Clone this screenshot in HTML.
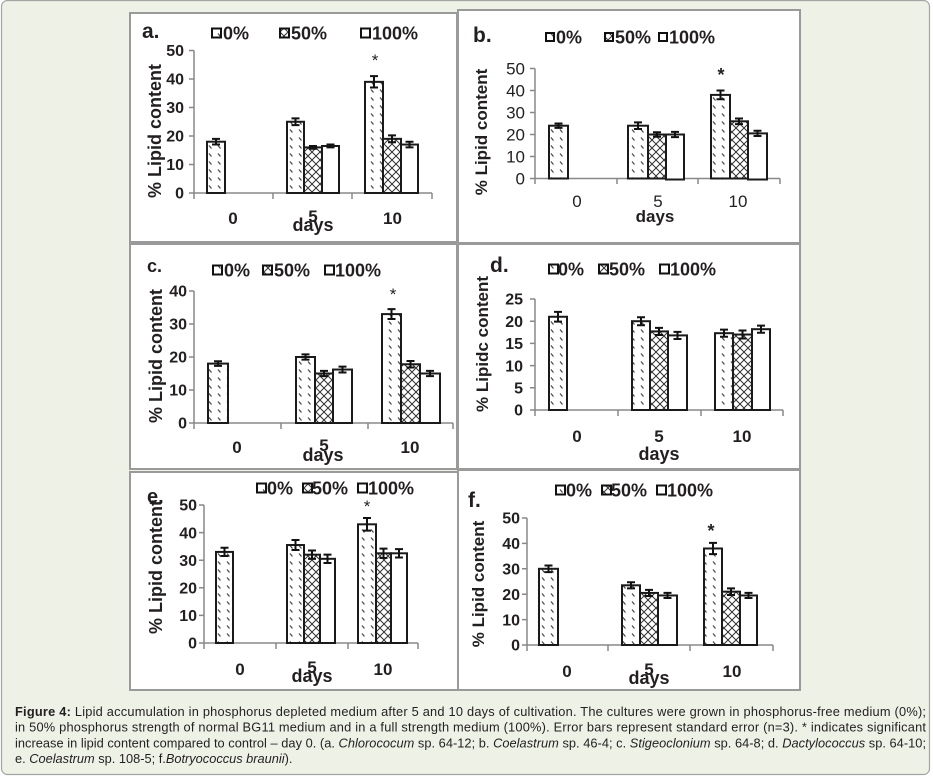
<!DOCTYPE html>
<html><head><meta charset="utf-8"><style>
html,body{margin:0;padding:0;background:#fff}
svg{display:block}
text{font-family:"Liberation Sans",Arial,sans-serif;fill:#231f20}
.tk{font-size:16px;font-weight:bold}
.tr{font-size:17px;font-weight:normal}
.lg{font-size:18px;font-weight:bold}
.yl{font-size:18px;font-weight:bold}
.cat{font-size:17px;font-weight:bold}
.pl{font-size:21px;font-weight:bold}
.ax{stroke:#888;stroke-width:1.5;fill:none}
.bar{stroke:#1a1a1a;stroke-width:2}
.eb{stroke:#111;stroke-width:2;fill:none}
.pb{fill:#fff;stroke:#9a9a9a;stroke-width:2}
.cap{font-size:12.8px}
</style></head><body>
<svg width="933" height="778" viewBox="0 0 933 778" xmlns="http://www.w3.org/2000/svg">
<defs>
<pattern id="p0" patternUnits="userSpaceOnUse" width="9" height="8">
<rect width="9" height="8" fill="#fff"/>
<path d="M2,1.5 L4.5,4.5" stroke="#444" stroke-width="1.2"/>
</pattern>
<pattern id="p50" patternUnits="userSpaceOnUse" width="8" height="8">
<rect width="8" height="8" fill="#fff"/>
<path d="M0,8 L8,0 M0,0 L8,8" stroke="#333" stroke-width="1"/>
</pattern>
</defs>
<rect x="1.5" y="0.5" width="928" height="774" rx="6" fill="#edf1e6" stroke="#a4a4a4" stroke-width="1.2"/>

<!-- panels -->
<rect class="pb" x="130" y="13" width="327" height="229"/>
<rect class="pb" x="458" y="10" width="342" height="233"/>
<rect class="pb" x="130" y="244" width="327" height="225"/>
<rect class="pb" x="458" y="244" width="342" height="225"/>
<rect class="pb" x="130" y="472" width="328" height="218"/>
<rect class="pb" x="458" y="470" width="342" height="220"/>

<!-- ===== Panel a ===== -->
<text class="pl" x="142" y="38">a.</text>
<rect x="212" y="28.5" width="9" height="9" fill="url(#p0)" stroke="#111" stroke-width="2"/>
<text class="lg" x="223" y="39.5">0%</text>
<rect x="280" y="28.5" width="9" height="9" fill="url(#p50)" stroke="#111" stroke-width="2"/>
<text class="lg" x="291" y="39.5">50%</text>
<rect x="361" y="28.5" width="9" height="9" fill="#fff" stroke="#111" stroke-width="2"/>
<text class="lg" x="372" y="39.5">100%</text>
<path class="ax" d="M194,50.5 V193 H432 M189,50.5 H194 M189,79 H194 M189,107.5 H194 M189,136 H194 M189,164.5 H194 M189,193 H194 M194,193 V199 M273,193 V199 M352,193 V199 M432,193 V199"/>
<g class="tk" text-anchor="end">
<text x="184" y="56.2">50</text><text x="184" y="84.7">40</text><text x="184" y="113.2">30</text>
<text x="184" y="141.7">20</text><text x="184" y="170.2">10</text><text x="184" y="198.7">0</text>
</g>
<text class="yl" transform="translate(161,131) rotate(-90)" text-anchor="middle">% Lipid content</text>
<rect class="bar" x="207" y="141.7" width="18" height="51.3" fill="url(#p0)"/>
<rect class="bar" x="287" y="121.75" width="17" height="71.25" fill="url(#p0)"/>
<rect class="bar" x="304" y="147.4" width="18" height="45.6" fill="url(#p50)"/>
<rect class="bar" x="322" y="146" width="17" height="47" fill="#fff"/>
<rect class="bar" x="365" y="81.85" width="18" height="111.15" fill="url(#p0)"/>
<rect class="bar" x="383" y="138.85" width="18" height="54.15" fill="url(#p50)"/>
<rect class="bar" x="401" y="144.55" width="17" height="48.45" fill="#fff"/>
<path class="eb" d="M212,138.85H220M216,138.85V144.55M212,144.55H220 M291.5,118.33H299.5M295.5,118.33V125.17M291.5,125.17H299.5 M309,146H317M313,146V148.8M309,148.8H317 M326.5,144.55H334.5M330.5,144.55V147.4M326.5,147.4H334.5 M370,76.15H378M374,76.15V87.55M370,87.55H378 M388,135.43H396M392,135.43V142.27M388,142.27H396 M405.5,141.7H413.5M409.5,141.7V147.4M405.5,147.4H413.5"/>
<text x="375" y="66" text-anchor="middle" style="font-size:17px">*</text>
<g class="cat" text-anchor="middle">
<text x="233" y="224">0</text><text x="313" y="222">5</text><text x="392.5" y="224">10</text>
</g>
<text class="cat" x="313" y="231" text-anchor="middle" style="font-size:18px">days</text>

<!-- ===== Panel b ===== -->
<text class="pl" x="473" y="42">b.</text>
<rect x="546" y="33" width="8" height="8" fill="url(#p0)" stroke="#111" stroke-width="2"/>
<text class="lg" x="556" y="43.5">0%</text>
<rect x="605" y="33" width="8" height="8" fill="url(#p50)" stroke="#111" stroke-width="2"/>
<text class="lg" x="615" y="43.5">50%</text>
<rect x="659" y="33" width="8" height="8" fill="#fff" stroke="#111" stroke-width="2"/>
<text class="lg" x="669" y="43.5">100%</text>
<path class="ax" d="M535,68.5 V178.5 H780 M530,68.5 H535 M530,90.5 H535 M530,112.5 H535 M530,134.5 H535 M530,156.5 H535 M530,178.5 H535 M535,178.5 V184 M617,178.5 V184 M698,178.5 V184 M780,178.5 V184"/>
<g class="tr" text-anchor="end">
<text x="525" y="74.5">50</text><text x="525" y="96.5">40</text><text x="525" y="118.5">30</text>
<text x="525" y="140.5">20</text><text x="525" y="162.5">10</text><text x="525" y="184.5">0</text>
</g>
<text class="yl" style="font-size:17px" transform="translate(487,132) rotate(-90)" text-anchor="middle">% Lipid content</text>
<rect class="bar" x="549" y="125.7" width="19" height="52.8" fill="url(#p0)"/>
<rect class="bar" x="628" y="125.7" width="20" height="52.8" fill="url(#p0)"/>
<rect class="bar" x="648" y="134.5" width="18" height="44" fill="url(#p50)"/>
<rect class="bar" x="666" y="134.5" width="18" height="45" fill="#fff"/>
<rect class="bar" x="711" y="94.9" width="19" height="83.6" fill="url(#p0)"/>
<rect class="bar" x="730" y="121.3" width="18" height="57.2" fill="url(#p50)"/>
<rect class="bar" x="748" y="133.4" width="19" height="46.1" fill="#fff"/>
<path class="eb" d="M554.5,123.5H562.5M558.5,123.5V127.9M554.5,127.9H562.5 M634,122.4H642M638,122.4V129M634,129H642 M653,132.3H661M657,132.3V136.7M653,136.7H661 M671,131.86H679M675,131.86V137.14M671,137.14H679 M716.5,90.5H724.5M720.5,90.5V99.3M716.5,99.3H724.5 M735,118.44H743M739,118.44V124.16M735,124.16H743 M753.5,130.76H761.5M757.5,130.76V136.04M753.5,136.04H761.5"/>
<text x="721" y="81" text-anchor="middle" style="font-size:18px;font-weight:bold">*</text>
<g class="tr" text-anchor="middle">
<text x="577" y="207">0</text><text x="658" y="207">5</text><text x="738" y="207">10</text>
</g>
<text class="cat" x="655" y="222" text-anchor="middle">days</text>

<!-- ===== Panel c ===== -->
<text class="pl" style="font-size:18px" x="147" y="272">c.</text>
<rect x="213" y="265.5" width="9" height="9" fill="url(#p0)" stroke="#111" stroke-width="2"/>
<text class="lg" x="224" y="276.5">0%</text>
<rect x="263" y="265.5" width="9" height="9" fill="url(#p50)" stroke="#111" stroke-width="2"/>
<text class="lg" x="274" y="276.5">50%</text>
<rect x="325" y="265.5" width="9" height="9" fill="#fff" stroke="#111" stroke-width="2"/>
<text class="lg" x="335" y="276.5">100%</text>
<path class="ax" d="M194,291 V423 H453 M189,291 H194 M189,324 H194 M189,357 H194 M189,390 H194 M189,423 H194 M194,423 V429 M281,423 V429 M368,423 V429 M453,423 V429"/>
<g class="tk" text-anchor="end">
<text x="187" y="296.7">40</text><text x="187" y="329.7">30</text><text x="187" y="362.7">20</text>
<text x="187" y="395.7">10</text><text x="187" y="428.7">0</text>
</g>
<text class="yl" transform="translate(162,356) rotate(-90)" text-anchor="middle">% Lipid content</text>
<rect class="bar" x="208" y="363.6" width="20" height="59.4" fill="url(#p0)"/>
<rect class="bar" x="296" y="357" width="19" height="66" fill="url(#p0)"/>
<rect class="bar" x="315" y="373.5" width="18" height="49.5" fill="url(#p50)"/>
<rect class="bar" x="333" y="369.54" width="19" height="53.46" fill="#fff"/>
<rect class="bar" x="382" y="314.1" width="19" height="108.9" fill="url(#p0)"/>
<rect class="bar" x="401" y="364.26" width="19" height="58.74" fill="url(#p50)"/>
<rect class="bar" x="420" y="373.5" width="20" height="49.5" fill="#fff"/>
<path class="eb" d="M214,361.29H222M218,361.29V365.91M214,365.91H222 M301.5,354.36H309.5M305.5,354.36V359.64M301.5,359.64H309.5 M320,370.86H328M324,370.86V376.14M320,376.14H328 M338.5,366.57H346.5M342.5,366.57V372.51M338.5,372.51H346.5 M387.5,309.15H395.5M391.5,309.15V319.05M387.5,319.05H395.5 M406.5,360.96H414.5M410.5,360.96V367.56M406.5,367.56H414.5 M426,370.86H434M430,370.86V376.14M426,376.14H434"/>
<text x="393" y="300" text-anchor="middle" style="font-size:17px">*</text>
<g class="cat" text-anchor="middle">
<text x="237" y="453">0</text><text x="324" y="451">5</text><text x="410" y="453">10</text>
</g>
<text class="cat" x="323" y="461" text-anchor="middle" style="font-size:18px">days</text>

<!-- ===== Panel d ===== -->
<text class="pl" x="490" y="272">d.</text>
<rect x="549" y="264.5" width="9" height="9" fill="url(#p0)" stroke="#111" stroke-width="2"/>
<text class="lg" x="558" y="275.5">0%</text>
<rect x="599" y="264.5" width="9" height="9" fill="url(#p50)" stroke="#111" stroke-width="2"/>
<text class="lg" x="609" y="275.5">50%</text>
<rect x="660" y="264.5" width="9" height="9" fill="#fff" stroke="#111" stroke-width="2"/>
<text class="lg" x="670" y="275.5">100%</text>
<path class="ax" d="M535,299 V410 H783 M530,299 H535 M530,321.2 H535 M530,343.4 H535 M530,365.6 H535 M530,387.8 H535 M530,410 H535 M535,410 V416 M618,410 V416 M701,410 V416 M783,410 V416"/>
<g class="tk" text-anchor="end">
<text x="523" y="304.7">25</text><text x="523" y="326.9">20</text><text x="523" y="349.1">15</text>
<text x="523" y="371.3">10</text><text x="523" y="393.5">5</text><text x="523" y="415.7">0</text>
</g>
<text class="yl" style="font-size:17px" transform="translate(488,344) rotate(-90)" text-anchor="middle">% Lipidc content</text>
<rect class="bar" x="549" y="316.76" width="18" height="93.24" fill="url(#p0)"/>
<rect class="bar" x="632" y="321.2" width="18" height="88.8" fill="url(#p0)"/>
<rect class="bar" x="650" y="331.41" width="18" height="78.59" fill="url(#p50)"/>
<rect class="bar" x="668" y="335.41" width="19" height="74.59" fill="#fff"/>
<rect class="bar" x="715" y="333.19" width="18" height="76.81" fill="url(#p0)"/>
<rect class="bar" x="733" y="334.52" width="19" height="75.48" fill="url(#p50)"/>
<rect class="bar" x="752" y="329.19" width="18" height="80.81" fill="#fff"/>
<path class="eb" d="M554,311.88H562M558,311.88V321.64M554,321.64H562 M637,317.2H645M641,317.2V325.2M637,325.2H645 M655,327.86H663M659,327.86V334.96M655,334.96H663 M673.5,331.86H681.5M677.5,331.86V338.96M673.5,338.96H681.5 M720,329.64H728M724,329.64V336.74M720,336.74H728 M738.5,330.52H746.5M742.5,330.52V338.52M738.5,338.52H746.5 M757,325.64H765M761,325.64V332.74M757,332.74H765"/>
<g class="cat" text-anchor="middle">
<text x="577" y="442">0</text><text x="659" y="442">5</text><text x="742" y="442">10</text>
</g>
<text class="cat" x="659" y="460" text-anchor="middle" style="font-size:18px">days</text>

<!-- ===== Panel e ===== -->
<text class="pl" style="font-size:20px" x="147" y="503">e.</text>
<rect x="257" y="483.5" width="9" height="9" fill="url(#p0)" stroke="#111" stroke-width="2"/>
<text class="lg" x="267" y="494.5">0%</text>
<rect x="303" y="483.5" width="9" height="9" fill="url(#p50)" stroke="#111" stroke-width="2"/>
<text class="lg" x="312" y="494.5">50%</text>
<rect x="358" y="483.5" width="9" height="9" fill="#fff" stroke="#111" stroke-width="2"/>
<text class="lg" x="368" y="494.5">100%</text>
<path class="ax" d="M204,505 V643 H418 M199,505 H204 M199,532.6 H204 M199,560.2 H204 M199,587.8 H204 M199,615.4 H204 M199,643 H204 M204,643 V649 M276,643 V649 M348,643 V649 M418,643 V649"/>
<g class="tk" text-anchor="end">
<text x="197" y="510.7">50</text><text x="197" y="538.3">40</text><text x="197" y="565.9">30</text>
<text x="197" y="593.5">20</text><text x="197" y="621.1">10</text><text x="197" y="648.7">0</text>
</g>
<text class="yl" transform="translate(162,567) rotate(-90)" text-anchor="middle">% Lipid content</text>
<rect class="bar" x="216" y="551.92" width="17" height="91.08" fill="url(#p0)"/>
<rect class="bar" x="287" y="545.02" width="17" height="97.98" fill="url(#p0)"/>
<rect class="bar" x="304" y="554.68" width="16" height="88.32" fill="url(#p50)"/>
<rect class="bar" x="320" y="558.82" width="15" height="84.18" fill="#fff"/>
<rect class="bar" x="358" y="524.32" width="18" height="118.68" fill="url(#p0)"/>
<rect class="bar" x="376" y="553.3" width="15" height="89.7" fill="url(#p50)"/>
<rect class="bar" x="391" y="553.3" width="16" height="89.7" fill="#fff"/>
<path class="eb" d="M220.5,547.78H228.5M224.5,547.78V556.06M220.5,556.06H228.5 M291.5,540.05H299.5M295.5,540.05V549.99M291.5,549.99H299.5 M308,550.54H316M312,550.54V558.82M308,558.82H316 M323.5,554.68H331.5M327.5,554.68V562.96M323.5,562.96H331.5 M363,517.97H371M367,517.97V530.67M363,530.67H371 M379.5,548.61H387.5M383.5,548.61V557.99M379.5,557.99H387.5 M395,549.16H403M399,549.16V557.44M395,557.44H403"/>
<text x="367" y="512" text-anchor="middle" style="font-size:17px">*</text>
<g class="cat" text-anchor="middle">
<text x="240" y="675">0</text><text x="312" y="673">5</text><text x="383" y="675">10</text>
</g>
<text class="cat" x="312" y="682" text-anchor="middle" style="font-size:18px">days</text>

<!-- ===== Panel f ===== -->
<text class="pl" x="468" y="507">f.</text>
<rect x="556" y="485.5" width="9" height="9" fill="url(#p0)" stroke="#111" stroke-width="2"/>
<text class="lg" x="566" y="496.5">0%</text>
<rect x="602" y="485.5" width="9" height="9" fill="url(#p50)" stroke="#111" stroke-width="2"/>
<text class="lg" x="611" y="496.5">50%</text>
<rect x="657" y="485.5" width="9" height="9" fill="#fff" stroke="#111" stroke-width="2"/>
<text class="lg" x="667" y="496.5">100%</text>
<path class="ax" d="M527,518 V645 H773 M522,518 H527 M522,543.4 H527 M522,568.8 H527 M522,594.2 H527 M522,619.6 H527 M522,645 H527 M527,645 V651 M608,645 V651 M690,645 V651 M773,645 V651"/>
<g class="tk" text-anchor="end">
<text x="520" y="523.7">50</text><text x="520" y="549.1">40</text><text x="520" y="574.5">30</text>
<text x="520" y="599.9">20</text><text x="520" y="625.3">10</text><text x="520" y="650.7">0</text>
</g>
<text class="yl" style="font-size:17px" transform="translate(484,584) rotate(-90)" text-anchor="middle">% Lipid content</text>
<rect class="bar" x="539" y="568.8" width="19" height="76.2" fill="url(#p0)"/>
<rect class="bar" x="622" y="585.31" width="18" height="59.69" fill="url(#p0)"/>
<rect class="bar" x="640" y="592.93" width="18" height="52.07" fill="url(#p50)"/>
<rect class="bar" x="658" y="595.47" width="19" height="49.53" fill="#fff"/>
<rect class="bar" x="704" y="548.48" width="18" height="96.52" fill="url(#p0)"/>
<rect class="bar" x="722" y="591.66" width="18" height="53.34" fill="url(#p50)"/>
<rect class="bar" x="740" y="595.47" width="17" height="49.53" fill="#fff"/>
<path class="eb" d="M544.5,565.5H552.5M548.5,565.5V572.1M544.5,572.1H552.5 M627,582.26H635M631,582.26V588.36M627,588.36H635 M645,589.88H653M649,589.88V595.98M645,595.98H653 M663.5,592.93H671.5M667.5,592.93V598.01M663.5,598.01H671.5 M709,542.89H717M713,542.89V554.07M709,554.07H717 M727,588.36H735M731,588.36V594.96M727,594.96H735 M744.5,592.93H752.5M748.5,592.93V598.01M744.5,598.01H752.5"/>
<text x="711" y="537" text-anchor="middle" style="font-size:18px;font-weight:bold">*</text>
<g class="cat" text-anchor="middle">
<text x="567" y="677">0</text><text x="649" y="675">5</text><text x="732" y="677">10</text>
</g>
<text class="cat" x="649" y="684" text-anchor="middle" style="font-size:18px">days</text>

<!-- ===== Caption ===== -->
<g class="cap">
<text x="15" y="716" textLength="911" lengthAdjust="spacing"><tspan font-weight="bold">Figure 4:</tspan> Lipid accumulation in phosphorus depleted medium after 5 and 10 days of cultivation. The cultures were grown in phosphorus-free medium (0%);</text>
<text x="15" y="731.7" textLength="911" lengthAdjust="spacing">in 50% phosphorus strength of normal BG11 medium and in a full strength medium (100%). Error bars represent standard error (n=3). * indicates significant</text>
<text x="15" y="747.4" textLength="911" lengthAdjust="spacing">increase in lipid content compared to control – day 0. (a. <tspan font-style="italic">Chlorococum</tspan> sp. 64-12; b. <tspan font-style="italic">Coelastrum</tspan> sp. 46-4; c. <tspan font-style="italic">Stigeoclonium</tspan> sp. 64-8; d. <tspan font-style="italic">Dactylococcus</tspan> sp. 64-10;</text>
<text x="15" y="763">e. <tspan font-style="italic">Coelastrum</tspan> sp. 108-5; f.<tspan font-style="italic">Botryococcus braunii</tspan>).</text>
</g>
</svg>
</body></html>
